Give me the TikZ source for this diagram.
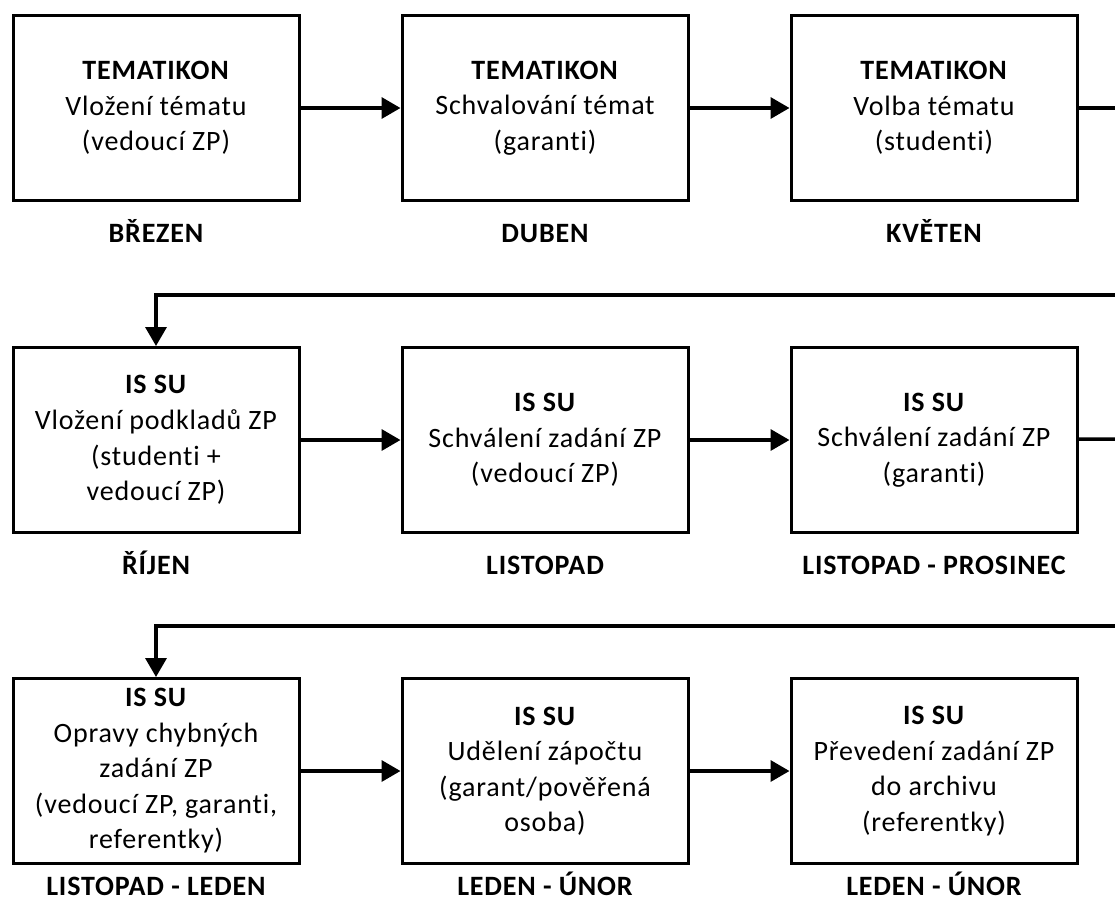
\documentclass[tikz,border=0pt]{standalone}
\usepackage{fontspec}
\setmainfont{Carlito}[LetterSpace=3,Ligatures=NoCommon]
\usetikzlibrary{arrows.meta,positioning}

\begin{document}
\begin{tikzpicture}[
    x = 1pt, y = -1pt, % pixel units, y going down
    > = {Triangle[length=19pt,width=21pt]}, % arrow head style
    line width = 3.5pt, % line style
    node distance = 100pt % distance between boxes
    ]

    \tikzset{phase/.style={
    draw = black,
    line width = 3pt,
    fill = white,
    minimum width = 286pt,
    minimum height = 185pt,
    inner sep = 0pt,
    align = center,
    font = \fontsize{28}{35.5}\selectfont
    },
    month/.style={
    font = \fontsize{28}{30}\selectfont\bfseries,
    inner sep = 0pt,
    text height = 18pt,
    text depth = 0pt
    }}

    \useasboundingbox (0,0) rectangle (1115,900);

    % first row
    \node[phase] (b1) at (156,108) {\textbf{TEMATIKON}\\Vložení tématu\\(vedoucí ZP)};
    \node[phase] (b2) [right=of b1] {\textbf{TEMATIKON}\\Schvalování témat\\(garanti)};
    \node[phase] (b3) [right=of b2] {\textbf{TEMATIKON}\\Volba tématu\\(studenti)};
    \node[month] (m1) [below=21pt of b1] {BŘEZEN};
    \node[month] (m2) [below=21pt of b2] {DUBEN};
    \node[month] (m3) [below=21pt of b3] {KVĚTEN};

    % second row
    \node[phase] (b4) [below=144pt of b1] {\textbf{IS SU}\\Vložení podkladů ZP\\(studenti +\\vedoucí ZP)};
    \node[phase] (b5) [right=of b4] {\textbf{IS SU}\\Schválení zadání ZP\\(vedoucí ZP)};
    \node[phase] (b6) [right=of b5] {\textbf{IS SU}\\Schválení zadání ZP\\(garanti)};
    \node[month] (m4) [below=21pt of b4] {ŘÍJEN};
    \node[month] (m5) [below=21pt of b5] {LISTOPAD};
    \node[month] (m6) [below=21pt of b6] {LISTOPAD - PROSINEC};

    % third row
    \node[phase] (b7) [below=143pt of b4] {\textbf{IS SU}\\Opravy chybných\\zadání ZP\\(vedoucí ZP, garanti,\\referentky)};
    \node[phase] (b8) [right=of b7] {\textbf{IS SU}\\Udělení zápočtu\\(garant/pověřená\\osoba)};
    \node[phase] (b9) [right=of b8] {\textbf{IS SU}\\Převedení zadání ZP\\do archivu\\(referentky)};
    \node[month] (m7) [below=11pt of b7] {LISTOPAD - LEDEN};
    \node[month] (m8) [below=11pt of b8] {LEDEN - ÚNOR};
    \node[month] (m9) [below=11pt of b9] {LEDEN - ÚNOR};

    \coordinate (e1) at (1115,108);
    \coordinate (r1) at (1115,295);
    \coordinate (e2) at (1115,439);
    \coordinate (r2) at (1115,626);

    \path[->] (b1) edge (b2)
              (b2) edge (b3)
              (b4) edge (b5)
              (b5) edge (b6)
              (b7) edge (b8)
              (b8) edge (b9);
    \draw (b3) -- (e1);
    \draw (b6) -- (e2);
    \draw[->] (r1) -| (b4.north);
    \draw[->] (r2) -| (b7.north);
\end{tikzpicture}
\end{document}
